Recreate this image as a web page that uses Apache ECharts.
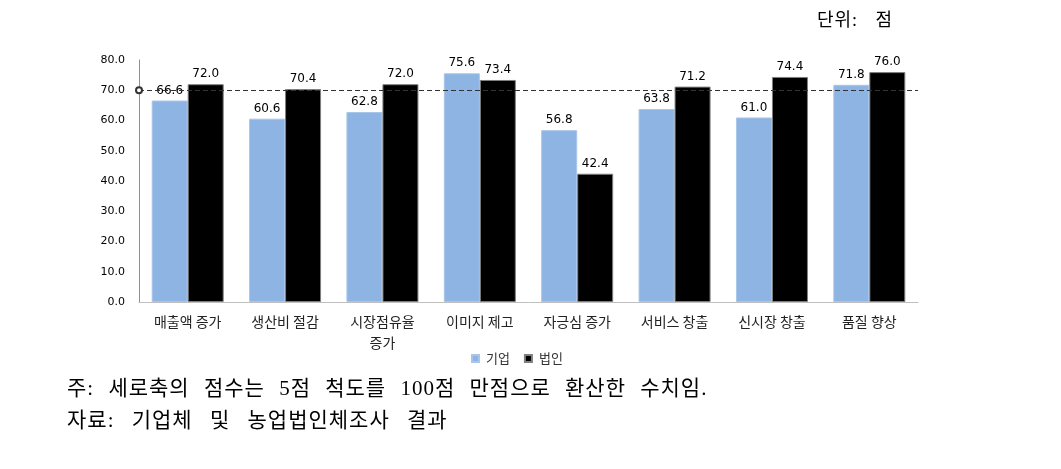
<!DOCTYPE html>
<html><head><meta charset="utf-8">
<script src="https://cdn.jsdelivr.net/npm/echarts@6/dist/echarts.min.js"></script>
<style>
html,body{margin:0;padding:0;background:#fff}
#wrap{position:relative;width:1061px;height:469px}
#c{width:1061px;height:469px}
.note{position:absolute;font-family:'Liberation Serif','Noto Sans CJK KR',serif;color:#000;white-space:nowrap;line-height:1}
</style>
</head><body><div id="wrap"><div id="c"></div>
<div class="note" id="unit" style="left:817px;top:11px;font-size:18px;word-spacing:12px;letter-spacing:1px"></div>
<div class="note" id="n1" style="left:67px;top:378px;font-size:21px;letter-spacing:1px;word-spacing:8px"></div>
<div class="note" id="n2" style="left:67px;top:410px;font-size:21px;letter-spacing:1px;word-spacing:11px"></div>
</div>
<script>
const categories = ['매출액 증가','생산비 절감','시장점유율\n증가','이미지 제고','자긍심 증가','서비스 창출','신시장 창출','품질 향상'];
const firmValues = [66.6, 60.6, 62.8, 75.6, 56.8, 63.8, 61.0, 71.8];
const corpValues = [72.0, 70.4, 72.0, 73.4, 42.4, 71.2, 74.4, 76.0];
const seriesNames = ['기업','법인'];
const refLine = 70;
const yTicks = {min:0, max:80, interval:10};
const unitText = '단위: 점';
const noteText = '주: 세로축의 점수는 5점 척도를 100점 만점으로 환산한 수치임.';
const sourceText = '자료: 기업체 및 농업법인체조사 결과';

document.getElementById('unit').textContent = unitText;
document.getElementById('n1').textContent = noteText;
document.getElementById('n2').textContent = sourceText;

const chart = echarts.init(document.getElementById('c'));
const lbl = {show:true, position:'top', formatter: p => p.value.toFixed(1), fontSize:12, color:'#000', fontFamily:'DejaVu Sans', distance:4};
chart.setOption({
  animation:false,
  legend:{data:seriesNames, left:466, top:347, itemWidth:7, itemHeight:7, itemGap:14, icon:'rect', textStyle:{fontFamily:'Noto Sans CJK KR', fontSize:13, color:'#333', padding:[0,0,0,2]}},
  grid:{left:139, right:143, top:60, bottom:167},
  xAxis:{type:'category', data:categories, axisLine:{lineStyle:{color:'#bfbfbf'}}, axisTick:{show:false},
    axisLabel:{fontFamily:'Noto Sans CJK KR', fontSize:14, color:'#222', margin:9, lineHeight:21, interval:0}},
  yAxis:{type:'value', min:yTicks.min, max:yTicks.max, interval:yTicks.interval, splitLine:{show:false},
    axisLine:{show:true, lineStyle:{color:'#909090'}}, axisTick:{show:false},
    axisLabel:{formatter:v=>v.toFixed(1), fontFamily:'DejaVu Sans', fontSize:11, color:'#000', margin:14}},
  series:[
    {name:seriesNames[0], type:'bar', data:firmValues, barWidth:36, barGap:'0%', itemStyle:{color:'#8eb4e3', borderColor:'#a9c6ea', borderWidth:1}, label:lbl,
     markLine:{silent:true, symbol:['emptyCircle','none'], symbolSize:6, label:{show:false},
       lineStyle:{type:[5,3], color:'#333', width:1}, data:[{yAxis:refLine}], z:5}},
    {name:seriesNames[1], type:'bar', data:corpValues, barWidth:36, itemStyle:{color:'#000', borderColor:'#7f7f7f', borderWidth:1}, label:lbl}
  ]
});
</script></body></html>
